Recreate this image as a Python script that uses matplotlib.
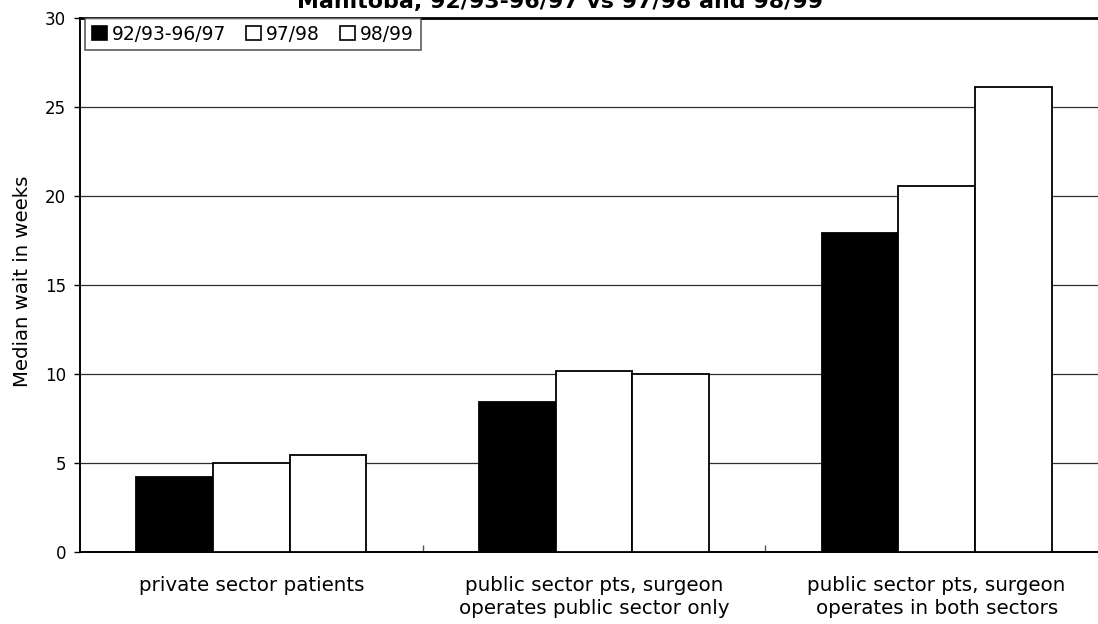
import matplotlib
matplotlib.use("Agg")
import matplotlib.pyplot as plt
from matplotlib.patches import Patch
import numpy as np

# Median wait (weeks) by patient/surgeon group and period
categories = [
    "private sector patients",
    "public sector pts, surgeon\noperates public sector only",
    "public sector pts, surgeon\noperates in both sectors",
]
series_names = ["92/93-96/97", "97/98", "98/99"]
wait_9293_9697 = [4.2, 8.45, 17.9]
wait_9798 = [5.0, 10.15, 20.55]
wait_9899 = [5.45, 10.0, 26.15]
y_ticks = [0, 5, 10, 15, 20, 25, 30]
title_text = "Manitoba, 92/93-96/97 vs 97/98 and 98/99"
y_label = "Median wait in weeks"

W, H = 1098, 624
fig = plt.figure(figsize=(W / 100, H / 100), dpi=100)
fig.patch.set_facecolor("white")

# axes box in pixel terms (right edge runs past the figure edge)
left_px, right_px, top_px, bottom_px = 80, 1108, 18, 552
ax = fig.add_axes([left_px / W, 1 - bottom_px / H,
                   (right_px - left_px) / W, (bottom_px - top_px) / H])

x = np.arange(len(categories))
bw = 0.224
series = [wait_9293_9697, wait_9798, wait_9899]
faces = ["black", "white", "white"]
for i, (vals, fc) in enumerate(zip(series, faces)):
    ax.bar(x + (i - 1) * bw, vals, width=bw, facecolor=fc,
           edgecolor="black", linewidth=1.3, zorder=3)

ax.set_xlim(-0.5, len(categories) - 0.5)
ax.set_ylim(0, 30)
ax.set_yticks(y_ticks)
ax.set_yticklabels([str(t) for t in y_ticks], fontsize=12)
ax.tick_params(axis="y", direction="out", length=4, width=1, pad=6,
               colors="black")

# gridlines
ax.set_axisbelow(True)
ax.yaxis.grid(True, color="#2e2e2e", linewidth=0.9)

# category labels on minor ticks, divider ticks on major ticks
ax.set_xticks([0.5, 1.5])
ax.set_xticklabels([])
ax.tick_params(axis="x", which="major", direction="in", length=5,
               width=1, colors="#555555")
ax.set_xticks(x, minor=True)
ax.set_xticklabels(categories, minor=True, fontsize=14.3,
                   linespacing=1.3)
ax.tick_params(axis="x", which="minor", length=0, pad=17)

for s in ["left", "bottom"]:
    ax.spines[s].set_linewidth(1.4)
    ax.spines[s].set_color("black")
ax.spines["top"].set_linewidth(2.0)
ax.spines["top"].set_color("black")
ax.spines["right"].set_visible(False)

fig.text(23 / W, 1 - 281 / H, y_label, rotation=90, ha="center",
         va="center", fontsize=14.2)

fig.text(560 / W, 1 - 8 / H, title_text, ha="center", va="baseline",
         fontsize=15.9, fontweight="bold")

handles = [Patch(facecolor=fc, edgecolor="black", linewidth=1.2)
           for fc in faces]
leg = ax.legend(handles, series_names, loc="upper left",
                bbox_to_anchor=(85 / W, 1 - 18 / H),
                bbox_transform=fig.transFigure, ncol=3, fontsize=13.5,
                handlelength=0.8, handleheight=0.8, handletextpad=0.27,
                columnspacing=1.07, borderpad=0.35, borderaxespad=0,
                frameon=True, fancybox=False, shadow=False)
leg.get_frame().set_edgecolor("#333333")
leg.get_frame().set_linewidth(1.2)
leg.get_frame().set_facecolor("white")

fig.savefig("out.png", dpi=100, facecolor="white")
